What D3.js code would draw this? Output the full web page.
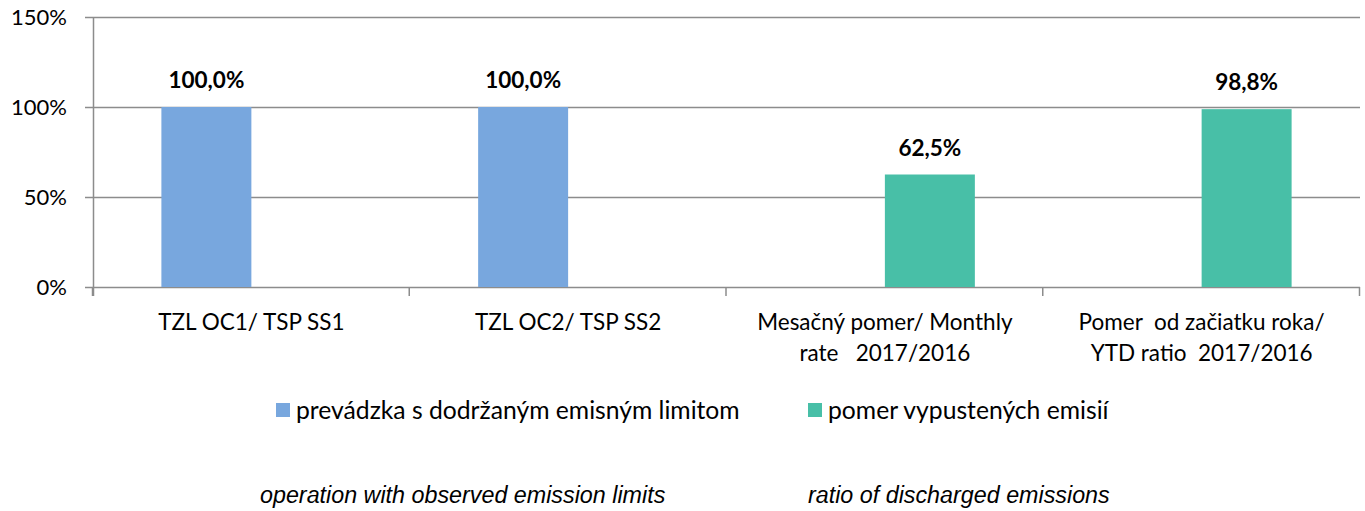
<!DOCTYPE html>
<html>
<head>
<meta charset="utf-8">
<script src="https://cdn.jsdelivr.net/npm/d3@7"></script>
<style>
  body { margin: 0; background: #fff; }
  svg { display: block; }
  text { font-family: Lato, "Open Sans", sans-serif; fill: #000; white-space: pre; }
  .note { font-family: "Liberation Sans", Arial, sans-serif; font-style: italic; }
</style>
</head>
<body>
<div id="chart"></div>
<script>
// Data
const categories = [
    ['TZL OC1/ TSP SS1'],
    ['TZL OC2/ TSP SS2'],
    ['Mesačný pomer/ Monthly', 'rate   2017/2016'],
    ['Pomer  od začiatku roka/', 'YTD ratio  2017/2016']
];
const seriesNames = ['prevádzka s dodržaným emisným limitom', 'pomer vypustených emisií'];
const operationValues = [100.0, 100.0, null, null];
const ratioValues = [null, null, 62.5, 98.8];
const yTicks = [0, 50, 100, 150];
const notes = ['operation with observed emission limits', 'ratio of discharged emissions'];

const config = {
    width: 1365,
    height: 511,
    margin: { top: 17, right: 5, bottom: 224, left: 93 },
    colors: ['#78a7de', '#48bfa7'],
    grid: '#8c8c8c'
};

const svg = d3.select('#chart')
    .append('svg')
    .attr('width', config.width)
    .attr('height', config.height);

const x0 = d3.scaleBand()
    .domain(d3.range(categories.length))
    .range([config.margin.left, config.width - config.margin.right]);

const x1 = d3.scaleBand()
    .domain([0, 1])
    .range([0, x0.bandwidth()])
    .paddingInner(0)
    .paddingOuter(0.76);

const y = d3.scaleLinear()
    .domain([0, 150])
    .range([config.height - config.margin.bottom, config.margin.top]);

// gridlines
svg.append('g')
    .selectAll('line')
    .data(yTicks)
    .join('line')
    .attr('x1', config.margin.left - 8)
    .attr('x2', config.width - config.margin.right)
    .attr('y1', d => Math.round(y(d)) + 0.5)
    .attr('y2', d => Math.round(y(d)) + 0.5)
    .attr('stroke', config.grid)
    .attr('stroke-width', 1.5);

// y axis line
svg.append('line')
    .attr('x1', config.margin.left + 0.5)
    .attr('x2', config.margin.left + 0.5)
    .attr('y1', y(150))
    .attr('y2', y(0) + 9)
    .attr('stroke', config.grid)
    .attr('stroke-width', 1.5);

// category ticks
svg.append('g')
    .selectAll('line')
    .data(d3.range(categories.length + 1))
    .join('line')
    .attr('x1', i => (i < categories.length ? x0(i) : x0.range()[1]) - 0.5)
    .attr('x2', i => (i < categories.length ? x0(i) : x0.range()[1]) - 0.5)
    .attr('y1', y(0))
    .attr('y2', y(0) + 9)
    .attr('stroke', config.grid)
    .attr('stroke-width', 1.5);

// y tick labels
svg.append('g')
    .selectAll('text')
    .data(yTicks)
    .join('text')
    .attr('x', config.margin.left - 26)
    .attr('y', d => y(d))
    .attr('dy', '0.35em')
    .attr('text-anchor', 'end')
    .style('font-size', '22px')
    .text(d => d + '%');

// bars
const series = [operationValues, ratioValues];
series.forEach((vals, s) => {
    const g = svg.append('g');
    const pts = vals.map((v, i) => ({ v, i })).filter(d => d.v !== null);
    g.selectAll('rect')
        .data(pts)
        .join('rect')
        .attr('x', d => x0(d.i) + x1(s))
        .attr('y', d => y(d.v))
        .attr('width', x1.bandwidth())
        .attr('height', d => y(0) - y(d.v))
        .attr('fill', config.colors[s]);
    g.selectAll('text')
        .data(pts)
        .join('text')
        .attr('x', d => x0(d.i) + x1(s) + x1.bandwidth() / 2)
        .attr('y', d => y(d.v) - 19)
        .attr('text-anchor', 'middle')
        .style('font-size', '22.5px')
        .style('font-weight', 'bold')
        .text(d => d.v.toFixed(1).replace('.', ',') + '%');
});

// category labels
svg.append('g')
    .selectAll('text')
    .data(categories)
    .join('text')
    .attr('x', (d, i) => x0(i) + x0.bandwidth() / 2)
    .attr('y', 330)
    .attr('text-anchor', 'middle')
    .style('font-size', '22.5px')
    .selectAll('tspan')
    .data(d => d)
    .join('tspan')
    .attr('x', function () { return d3.select(this.parentNode).attr('x'); })
    .attr('dy', (d, i) => i === 0 ? 0 : 31)
    .text(d => d);

// legend
const legendX = [276, 808];
const legend = svg.append('g');
seriesNames.forEach((name, i) => {
    legend.append('rect')
        .attr('x', legendX[i])
        .attr('y', 403)
        .attr('width', 14)
        .attr('height', 14)
        .attr('fill', config.colors[i]);
    legend.append('text')
        .attr('x', legendX[i] + 20)
        .attr('y', 419)
        .style('font-size', '24.7px')
        .text(name);
});

// english notes
const noteX = [260, 808];
svg.append('g')
    .selectAll('text')
    .data(notes)
    .join('text')
    .attr('class', 'note')
    .attr('x', (d, i) => noteX[i])
    .attr('y', 503)
    .style('font-size', '23.3px')
    .text(d => d);
</script>
</body>
</html>
